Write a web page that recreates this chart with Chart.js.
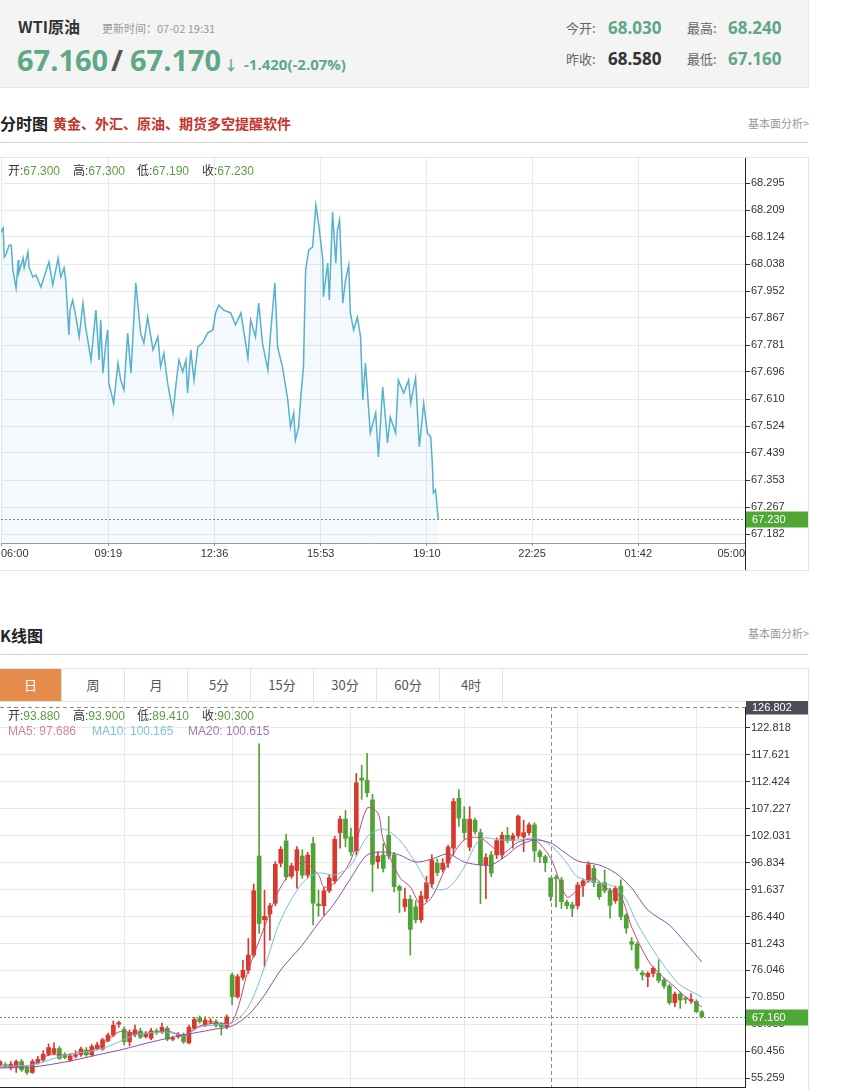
<!DOCTYPE html>
<html>
<head>
<meta charset="utf-8">
<title>WTI原油</title>
<script src="https://cdn.jsdelivr.net/npm/chart.js@4.4.1/dist/chart.umd.min.js"></script>
<style>
html, body { margin: 0; padding: 0; overflow: hidden; background: #fff; }
body { width: 852px; height: 1090px; position: relative; font-family: "Noto Sans CJK SC", "Open Sans", sans-serif; color: #333; }
.t { position: absolute; white-space: nowrap; line-height: 20px; height: 20px; }
.num { font-family: "Open Sans", "Noto Sans CJK SC", sans-serif; font-weight: bold; }
.big { line-height: 30px; height: 30px; font-size: 29px; }
.green { color: #5fa886; }
.lbl { color: #666; font-size: 13px; }
.val { font-size: 17px; }
.info { position: absolute; white-space: nowrap; font-size: 12px; line-height: 16px; font-family: "Liberation Sans", "Noto Sans CJK SC", sans-serif; z-index: 2; }
.info b { font-weight: normal; color: #333; }
.info span { color: #5c9d48; }
.tab { position: absolute; top: 0; width: 62px; height: 32px; line-height: 32px; text-align: center; font-size: 13px; color: #555; border-right: 1px solid #e2e2e2; }
</style>
</head>
<body>

<!-- header -->
<div style="position:absolute;left:0;top:0;width:808px;height:87px;background:#f4f4f4;border-right:1px solid #e8e8e8;border-bottom:1px solid #e8e8e8;"></div>
<div class="t" style="left:18px;top:16px;font-size:16px;font-weight:bold;color:#333;">WTI原油</div>
<div class="t" style="left:102px;top:18px;font-size:11px;color:#999;">更新时间：07-02 19:31</div>
<div class="t num big green" style="left:17px;top:45px;">67.160</div>
<div class="t num big" style="left:111px;top:45px;color:#555;">/</div>
<div class="t num big green" style="left:130px;top:45px;">67.170</div>
<div class="t green" style="left:224px;top:54px;font-size:14px;font-weight:bold;">↓</div>
<div class="t num green" style="left:244px;top:54px;font-size:15px;">-1.420(-2.07%)</div>

<div class="t lbl" style="left:566px;top:18px;">今开:</div>
<div class="t num val green" style="left:608px;top:18px;">68.030</div>
<div class="t lbl" style="left:687px;top:18px;">最高:</div>
<div class="t num val green" style="left:728px;top:18px;">68.240</div>
<div class="t lbl" style="left:566px;top:49px;">昨收:</div>
<div class="t num val" style="left:608px;top:49px;color:#333;">68.580</div>
<div class="t lbl" style="left:687px;top:49px;">最低:</div>
<div class="t num val green" style="left:728px;top:49px;">67.160</div>

<!-- 分时图 -->
<div class="t" style="left:0;top:113px;font-size:16px;font-weight:bold;color:#222;">分时图</div>
<div class="t" style="left:53px;top:113px;font-size:14px;font-weight:bold;color:#c4342c;">黄金、外汇、原油、期货多空提醒软件</div>
<div class="t" style="left:748px;top:113px;font-size:11px;color:#999;">基本面分析&gt;</div>
<div style="position:absolute;left:0;top:142px;width:808px;height:1px;background:#d2d2d2;"></div>

<div style="position:absolute;left:0;top:157px;width:809px;height:414px;box-sizing:border-box;border:1px solid #e4e4e4;border-left:none;"></div>
<canvas id="fs" width="808" height="413" style="position:absolute;left:0;top:157px;"></canvas>
<div class="info" style="left:8px;top:163px;"><b>开:</b><span>67.300</span></div>
<div class="info" style="left:73px;top:163px;"><b>高:</b><span>67.300</span></div>
<div class="info" style="left:137px;top:163px;"><b>低:</b><span>67.190</span></div>
<div class="info" style="left:202px;top:163px;"><b>收:</b><span>67.230</span></div>

<!-- K线图 -->
<div class="t" style="left:0;top:625px;font-size:16px;font-weight:bold;color:#222;">K线图</div>
<div class="t" style="left:748px;top:623px;font-size:11px;color:#999;">基本面分析&gt;</div>
<div style="position:absolute;left:0;top:654px;width:808px;height:1px;background:#d2d2d2;"></div>

<div id="tabs" style="position:absolute;left:0;top:668px;width:809px;height:34px;box-sizing:border-box;border:1px solid #e2e2e2;border-left:none;"></div>

<div style="position:absolute;left:0;top:701px;width:809px;height:420px;box-sizing:border-box;border-right:1px solid #e4e4e4;"></div>
<canvas id="kline" width="808" height="402" style="position:absolute;left:0;top:701px;"></canvas>
<div class="info" style="left:8px;top:708px;"><b>开:</b><span>93.880</span></div>
<div class="info" style="left:73px;top:708px;"><b>高:</b><span>93.900</span></div>
<div class="info" style="left:137px;top:708px;"><b>低:</b><span>89.410</span></div>
<div class="info" style="left:202px;top:708px;"><b>收:</b><span>90.300</span></div>
<div class="info" style="left:8px;top:723px;color:#d77fa2;">MA5: 97.686</div>
<div class="info" style="left:92px;top:723px;color:#7cc6d7;">MA10: 100.165</div>
<div class="info" style="left:188px;top:723px;color:#a676b8;">MA20: 100.615</div>

<script>
// ---- 分时 data: minutes after 06:00, price
const fsMinutes = [0, 4, 6, 9, 15, 19, 22, 28, 32, 33, 41, 43, 50, 52, 59, 65, 74, 80, 89, 96,
  106, 111, 117, 120, 126, 128, 133, 139, 145, 152, 157, 167, 176, 182, 185, 189, 195, 198, 200, 209,
  217, 222, 228, 235, 241, 250, 259, 265, 272, 282, 291, 296, 302, 309, 319, 324, 330, 337, 343, 346,
  352, 358, 365, 374, 383, 393, 398, 404, 413, 426, 435, 445, 458, 463, 472, 478, 485, 495, 500, 508,
  513, 522, 532, 537, 543, 546, 552, 556, 561, 565, 571, 578, 584, 589, 597, 598, 606, 609, 615, 621,
  624, 628, 634, 639, 645, 648, 654, 661, 667, 671, 676, 685, 695, 700, 708, 717, 722, 732, 737, 747,
  756, 760, 769, 776, 784, 791, 797, 800, 802, 806, 811];
const fsPrices = [68.140, 68.152, 68.060, 68.067, 68.098, 68.098, 68.019, 67.962, 68.051, 68.010,
  68.057, 68.026, 68.076, 68.029, 67.997, 68.003, 67.965, 67.997, 68.045, 67.972,
  68.057, 67.997, 68.026, 67.987, 67.813, 67.892, 67.924, 67.870, 67.807, 67.914,
  67.838, 67.734, 67.892, 67.734, 67.861, 67.692, 67.797, 67.829, 67.661, 67.597,
  67.724, 67.670, 67.639, 67.819, 67.692, 67.978, 67.819, 67.788, 67.870, 67.766,
  67.807, 67.712, 67.756, 67.661, 67.566, 67.648, 67.734, 67.696, 67.734, 67.629,
  67.766, 67.670, 67.775, 67.788, 67.819, 67.829, 67.883, 67.908, 67.892, 67.883,
  67.845, 67.883, 67.740, 67.861, 67.807, 67.914, 67.788, 67.702, 67.819, 67.978,
  67.775, 67.712, 67.607, 67.521, 67.566, 67.480, 67.521, 67.616, 67.712, 68.019,
  68.083, 68.092, 68.225, 68.168, 68.051, 67.934, 68.041, 67.924, 68.203, 68.041,
  68.146, 68.178, 67.914, 67.987, 68.035, 67.883, 67.829, 67.870, 67.807, 67.607,
  67.724, 67.502, 67.566, 67.426, 67.648, 67.471, 67.553, 67.502, 67.670, 67.629,
  67.670, 67.597, 67.677, 67.458, 67.597, 67.502, 67.490, 67.407, 67.312, 67.322, 67.230];
const fsTickMinutes = [0, 199, 396, 593, 790, 985, 1182, 1380];
const fsTickLabels = ['06:00', '09:19', '12:36', '15:53', '19:10', '22:25', '01:42', '05:00'];
const fsAxisTicks = [67.182, 67.267, 67.353, 67.439, 67.524, 67.610, 67.696, 67.781,
  67.867, 67.952, 68.038, 68.124, 68.209, 68.295];
const fsLast = 67.230;

// ---- 日K data
const kOpen = [57.83, 57.90, 57.30, 57.50, 58.50, 57.20, 56.40, 58.30, 58.80, 59.90,
  60.10, 61.00, 59.80, 58.80, 59.50, 59.80, 60.70, 59.80, 61.00, 60.90,
  62.50, 63.60, 65.70, 64.70, 62.30, 63.70, 64.40, 63.30, 63.00, 64.40,
  64.20, 64.90, 62.80, 63.30, 63.60, 62.10, 64.90, 66.80, 65.50, 66.10,
  66.20, 65.70, 65.20, 75.17, 71.00, 74.70, 76.10, 79.00, 98.10, 85.80,
  86.90, 89.00, 96.70, 101.00, 94.20, 95.30, 98.10, 94.40, 100.50, 88.85,
  88.50, 91.40, 93.30, 102.60, 105.20, 101.80, 99.10, 113.10, 112.70, 108.90,
  97.00, 98.30, 102.10, 98.30, 92.20, 88.30, 89.75, 88.30, 85.80, 89.90,
  92.70, 96.70, 95.50, 96.70, 99.60, 109.20, 105.20, 99.80, 105.00, 102.60,
  96.40, 98.30, 98.30, 98.30, 102.10, 101.05, 102.00, 101.80, 102.60, 104.10,
  98.90, 97.97, 93.88, 94.00, 93.50, 89.20, 88.70, 88.50, 92.40, 93.35,
  95.70, 92.70, 92.96, 91.40, 89.50, 92.30, 86.70, 81.60, 81.10, 75.60,
  74.85, 75.49, 75.50, 74.20, 73.05, 69.85, 71.50, 70.70, 70.20, 70.05, 68.10];
const kHigh = [58.70, 58.30, 58.50, 58.80, 58.90, 57.60, 58.90, 59.50, 60.60, 61.90,
  62.10, 61.40, 60.20, 60.00, 60.60, 61.30, 61.20, 61.80, 62.20, 63.00,
  64.00, 66.30, 66.30, 65.20, 64.60, 65.50, 64.90, 64.30, 64.90, 64.80,
  65.90, 65.30, 63.40, 64.10, 64.00, 65.50, 67.00, 67.30, 67.10, 66.80,
  66.60, 66.00, 67.50, 75.60, 75.30, 78.00, 82.20, 92.70, 119.70, 91.50,
  89.00, 97.00, 99.90, 102.30, 96.70, 99.90, 99.30, 98.80, 101.70, 91.50,
  92.00, 94.50, 101.90, 105.80, 106.90, 103.50, 114.00, 115.60, 117.90, 110.00,
  98.90, 100.50, 105.70, 98.80, 92.50, 91.90, 90.50, 89.50, 91.30, 94.20,
  98.30, 97.50, 97.60, 100.20, 109.20, 110.90, 107.60, 107.60, 105.40, 103.30,
  98.50, 99.00, 101.60, 102.70, 103.60, 102.50, 106.00, 105.00, 104.50, 104.50,
  99.30, 98.30, 93.90, 94.40, 94.00, 89.60, 89.20, 93.00, 93.70, 97.00,
  96.30, 93.20, 95.40, 91.90, 92.30, 93.50, 87.00, 82.40, 81.50, 76.00,
  75.80, 76.80, 78.10, 74.60, 73.40, 71.90, 71.90, 71.00, 71.60, 70.40, 68.30];
const kLow = [57.60, 57.40, 56.90, 56.40, 56.60, 56.00, 56.20, 58.00, 58.50, 59.60,
  59.80, 58.90, 59.00, 58.50, 59.20, 59.50, 59.50, 59.50, 60.80, 60.70,
  62.30, 63.30, 65.10, 61.70, 61.50, 63.30, 62.90, 63.00, 62.70, 63.70,
  63.90, 62.50, 62.50, 63.00, 62.00, 61.90, 64.60, 65.90, 65.20, 65.80,
  65.10, 63.60, 64.80, 69.40, 70.70, 74.20, 75.50, 78.60, 83.20, 76.80,
  81.90, 88.50, 96.00, 93.50, 93.80, 91.90, 93.80, 93.90, 84.80, 86.50,
  86.70, 91.00, 92.80, 99.60, 99.90, 98.20, 98.30, 109.00, 109.50, 91.20,
  95.70, 95.00, 97.50, 91.20, 87.20, 87.40, 79.00, 85.20, 85.30, 89.30,
  92.00, 94.30, 95.00, 95.90, 98.30, 103.80, 101.20, 99.10, 102.30, 88.90,
  89.90, 94.10, 97.60, 97.60, 100.60, 99.60, 101.50, 98.90, 102.10, 97.00,
  96.80, 95.10, 89.41, 88.30, 88.00, 87.90, 86.40, 87.90, 90.30, 93.00,
  92.20, 89.75, 91.00, 86.10, 89.00, 85.80, 83.20, 80.00, 76.00, 74.20,
  72.90, 74.80, 73.70, 72.60, 69.50, 69.07, 68.75, 69.70, 69.70, 67.90, 66.90];
const kClose = [58.48, 57.70, 58.00, 58.50, 56.90, 56.40, 58.50, 58.90, 59.90, 61.20,
  61.00, 59.10, 59.30, 59.60, 59.80, 60.90, 59.80, 61.40, 61.70, 62.70,
  63.60, 65.50, 66.00, 62.30, 64.10, 64.60, 63.20, 63.80, 64.40, 64.10,
  65.10, 62.80, 63.00, 63.70, 62.30, 65.10, 66.60, 66.20, 66.50, 66.30,
  65.40, 65.20, 67.10, 71.00, 74.85, 76.10, 79.00, 91.40, 85.10, 86.50,
  88.50, 96.50, 99.40, 94.10, 96.20, 99.30, 94.40, 98.30, 89.00, 88.50,
  91.40, 93.90, 101.30, 105.20, 101.50, 98.90, 112.20, 112.70, 110.30, 96.50,
  98.10, 95.70, 98.10, 92.20, 91.50, 89.80, 83.97, 85.80, 90.40, 92.96,
  97.30, 94.90, 96.70, 99.80, 108.60, 105.40, 102.60, 105.20, 102.80, 96.40,
  97.80, 94.80, 101.05, 102.10, 101.05, 102.00, 105.80, 102.60, 104.10, 99.10,
  97.97, 96.80, 90.30, 93.80, 89.30, 88.50, 88.00, 92.50, 93.30, 96.40,
  92.96, 90.26, 91.40, 88.60, 91.90, 86.40, 84.20, 81.10, 76.46, 75.17,
  75.49, 76.46, 74.10, 73.05, 69.85, 71.50, 70.35, 70.50, 70.50, 68.10, 67.16];
// moving averages: [candle index, value]
const ma5 = [[0, 57.45], [6, 57.83], [9, 59.76], [12, 59.76], [18, 61.11], [22, 64.19], [25, 64.00], [28, 64.00],
  [31, 64.38], [34, 63.61], [37, 65.35], [40, 65.93], [43, 66.12], [46, 76.14], [49, 84.42], [52, 92.13],
  [56, 96.94], [59, 94.44], [60, 92.13], [62, 92.89], [65, 97.33], [68, 107.34], [70, 106.38], [71, 101.18],
  [74, 94.05], [76, 92.13], [78, 88.66], [80, 90.20], [83, 96.75], [86, 101.18], [89, 101.56], [93, 98.67],
  [96, 100.79], [99, 101.18], [102, 97.686], [105, 90.20], [107, 91.55], [110, 93.86], [112, 92.13], [115, 90.20],
  [117, 84.42], [120, 78.06], [122, 75.56], [125, 72.86], [127, 70.93], [130, 69.01]];
const ma10 = [[0, 57.64], [6, 57.83], [12, 59.76], [18, 60.72], [22, 62.26], [25, 63.61], [31, 64.19], [34, 63.42],
  [37, 65.15], [40, 65.54], [43, 65.93], [46, 69.01], [49, 76.71], [52, 85.77], [56, 92.89], [59, 94.82],
  [62, 94.44], [65, 96.36], [68, 101.76], [71, 103.30], [74, 101.18], [77, 96.75], [80, 91.93], [83, 91.93],
  [86, 95.98], [89, 101.37], [93, 101.18], [96, 101.18], [99, 101.56], [102, 100.165], [105, 96.75], [107, 94.05],
  [111, 92.89], [114, 92.13], [116, 89.62], [118, 85.19], [121, 79.99], [124, 75.56], [126, 73.25], [130, 70.93]];
const ma20 = [[0, 57.26], [6, 57.45], [12, 58.41], [18, 59.76], [23, 60.91], [28, 62.26], [34, 63.61], [40, 64.77],
  [43, 65.35], [46, 67.46], [49, 71.32], [52, 76.14], [56, 80.95], [59, 85.19], [62, 89.04], [65, 93.86],
  [68, 98.29], [71, 98.87], [74, 98.29], [77, 96.94], [80, 97.52], [83, 98.48], [86, 96.94], [89, 96.36],
  [91, 96.36], [94, 98.29], [96, 100.02], [99, 101.18], [102, 100.615], [104, 99.25], [107, 97.14], [111, 96.36],
  [114, 94.82], [117, 91.93], [120, 87.69], [124, 84.80], [127, 81.33], [130, 77.68]];
const kAxisTicks = [55.259, 60.456, 65.653, 70.850, 76.046, 81.243, 86.440, 91.637,
  96.834, 102.031, 107.227, 112.424, 117.621, 122.818];
const kMonthStarts = [23, 43, 65, 86, 107, 129];
const kCross = 102;       // candle under the crosshair
const kCrossTop = 126.802;
const kLast = 67.160;
const tabNames = ['日', '周', '月', '5分', '15分', '30分', '60分', '4时'];

const AXIS_FONT = { family: '"Liberation Sans", "DejaVu Sans", sans-serif', size: 11 };
const RED = '#d73a2c', GREEN = '#4fa236';

// tabs
const tabs = document.getElementById('tabs');
tabNames.forEach((name, i) => {
  const d = document.createElement('div');
  d.className = 'tab';
  d.style.left = (i * 63 - 1) + 'px';
  if (i === 0) { d.style.background = '#e58c4d'; d.style.color = '#fff'; d.style.left = '0px'; d.style.width = '61px'; }
  d.textContent = name;
  tabs.appendChild(d);
});

function priceBox(ctx, area, py, bg, text) {
  ctx.fillStyle = bg;
  ctx.fillRect(area.right + 1, py - 8, 62, 16);
  ctx.fillStyle = '#fff';
  ctx.font = '11px "Liberation Sans", sans-serif';
  ctx.textBaseline = 'middle';
  ctx.fillText(text, area.right + 7, py + 0.5);
}

// right axis: fixed width, no extra room for half labels at the ends
const fitRightAxis = s => { s.width = 63; s.paddingTop = 0; s.paddingBottom = 0; };

const fsMarks = {
  id: 'fsMarks',
  afterDraw(chart) {
    const { ctx, chartArea: a, scales: { y } } = chart;
    const py = Math.round(y.getPixelForValue(fsLast)) + 0.5;
    ctx.save();
    ctx.strokeStyle = '#55a843';
    ctx.lineWidth = 1;
    ctx.setLineDash([2, 2]);
    ctx.beginPath(); ctx.moveTo(a.left, py); ctx.lineTo(a.right, py); ctx.stroke();
    ctx.setLineDash([]);
    // axis line carries on through the time labels
    ctx.strokeStyle = '#222';
    ctx.beginPath(); ctx.moveTo(a.right + 0.5, a.bottom); ctx.lineTo(a.right + 0.5, chart.height); ctx.stroke();
    priceBox(ctx, a, py, '#4fa736', fsLast.toFixed(3));
    ctx.restore();
  }
};

new Chart(document.getElementById('fs'), {
  type: 'line',
  data: {
    datasets: [{
      data: fsMinutes.map((m, i) => ({ x: m, y: fsPrices[i] })),
      borderColor: '#56b1cd',
      borderWidth: 1.5,
      pointRadius: 0,
      tension: 0,
      fill: 'start',
      backgroundColor: 'rgba(120, 190, 222, 0.09)'
    }]
  },
  options: {
    responsive: false,
    animation: false,
    events: [],
    layout: { padding: { top: 1, left: 0, right: 0, bottom: 0 } },
    plugins: { legend: { display: false }, tooltip: { enabled: false } },
    scales: {
      x: {
        type: 'linear', min: 0, max: 1380,
        afterBuildTicks: s => { s.ticks = fsTickMinutes.map(v => ({ value: v })); },
        afterFit: s => { s.height = 27; },
        grid: { color: '#e9e9e9', tickLength: 3, tickColor: '#999' },
        border: { color: '#999' },
        ticks: { align: 'inner', autoSkip: false, maxRotation: 0, padding: 1, color: '#333', font: AXIS_FONT,
          callback: (v, i) => fsTickLabels[i] }
      },
      y: {
        position: 'right', min: 67.1535, max: 68.3743,
        afterBuildTicks: s => { s.ticks = fsAxisTicks.map(v => ({ value: v })); },
        afterFit: fitRightAxis,
        grid: { color: '#e9e9e9', tickLength: 5, tickColor: '#333' },
        border: { color: '#222' },
        ticks: { padding: 1, color: '#333', font: AXIS_FONT, callback: v => v.toFixed(3) }
      }
    }
  },
  plugins: [fsMarks]
});

const kMarks = {
  id: 'kMarks',
  afterDraw(chart) {
    const { ctx, chartArea: a, scales: { x, y } } = chart;
    ctx.save();
    ctx.lineWidth = 1;
    // crosshair
    ctx.strokeStyle = '#8a8a8a';
    ctx.setLineDash([4, 3]);
    const cx = Math.round(x.getPixelForValue(kCross)) + 0.5;
    const cy = Math.round(y.getPixelForValue(kCrossTop)) + 0.5;
    ctx.beginPath(); ctx.moveTo(cx, a.top); ctx.lineTo(cx, a.bottom); ctx.stroke();
    ctx.beginPath(); ctx.moveTo(a.left, cy); ctx.lineTo(a.right, cy); ctx.stroke();
    // last price
    ctx.strokeStyle = '#55a843';
    ctx.setLineDash([2, 2]);
    const py = Math.round(y.getPixelForValue(kLast)) + 0.5;
    ctx.beginPath(); ctx.moveTo(a.left, py); ctx.lineTo(a.right, py); ctx.stroke();
    ctx.setLineDash([]);
    priceBox(ctx, a, py, '#4fa736', kLast.toFixed(3));
    ctx.fillStyle = '#4b4e57';
    ctx.fillRect(a.right + 1, cy - 7, 62, 14);
    ctx.fillStyle = '#fff';
    ctx.font = '11px "Liberation Sans", sans-serif';
    ctx.textBaseline = 'middle';
    ctx.fillText(kCrossTop.toFixed(3), a.right + 7, cy);
    ctx.restore();
  }
};

const idx = kOpen.map((_, i) => i);
const candleColor = idx.map(i => (kClose[i] >= kOpen[i] ? RED : GREEN));
const maLine = (pts, color) => ({
  type: 'line',
  data: pts.map(p => ({ x: p[0], y: p[1] })),
  borderColor: color,
  borderWidth: 1,
  pointRadius: 0,
  tension: 0.3,
  order: 0
});

new Chart(document.getElementById('kline'), {
  type: 'bar',
  data: {
    datasets: [
      { data: idx.map(i => ({ x: i, y: [kLow[i], kHigh[i]] })), backgroundColor: candleColor,
        barThickness: 1, grouped: false, order: 3 },
      { data: idx.map(i => ({ x: i, y: [kOpen[i], kClose[i]] })), backgroundColor: candleColor,
        barThickness: 4, grouped: false, minBarLength: 1, order: 2 },
      maLine(ma20, '#8f4fa5'),
      maLine(ma10, '#6fc2d4'),
      maLine(ma5, '#c9486c')
    ]
  },
  options: {
    responsive: false,
    animation: false,
    events: [],
    layout: { padding: { top: 6, left: 0, right: 0, bottom: 0 } },
    plugins: { legend: { display: false }, tooltip: { enabled: false } },
    scales: {
      x: {
        type: 'linear', min: 0, max: 138, offset: false,
        afterBuildTicks: s => { s.ticks = kMonthStarts.map(v => ({ value: v })); },
        afterFit: s => { s.height = 16; },
        grid: { color: '#e9e9e9', offset: false, drawTicks: false },
        border: { color: '#222' },
        ticks: { display: false }
      },
      y: {
        position: 'right', min: 53.595, max: 126.802, beginAtZero: false,
        afterBuildTicks: s => { s.ticks = kAxisTicks.map(v => ({ value: v })); },
        afterFit: fitRightAxis,
        grid: { color: '#e9e9e9', tickLength: 5, tickColor: '#333' },
        border: { color: '#222' },
        ticks: { padding: 1, color: '#333', font: AXIS_FONT, callback: v => v.toFixed(3) }
      }
    }
  },
  plugins: [kMarks]
});
</script>
</body>
</html>
